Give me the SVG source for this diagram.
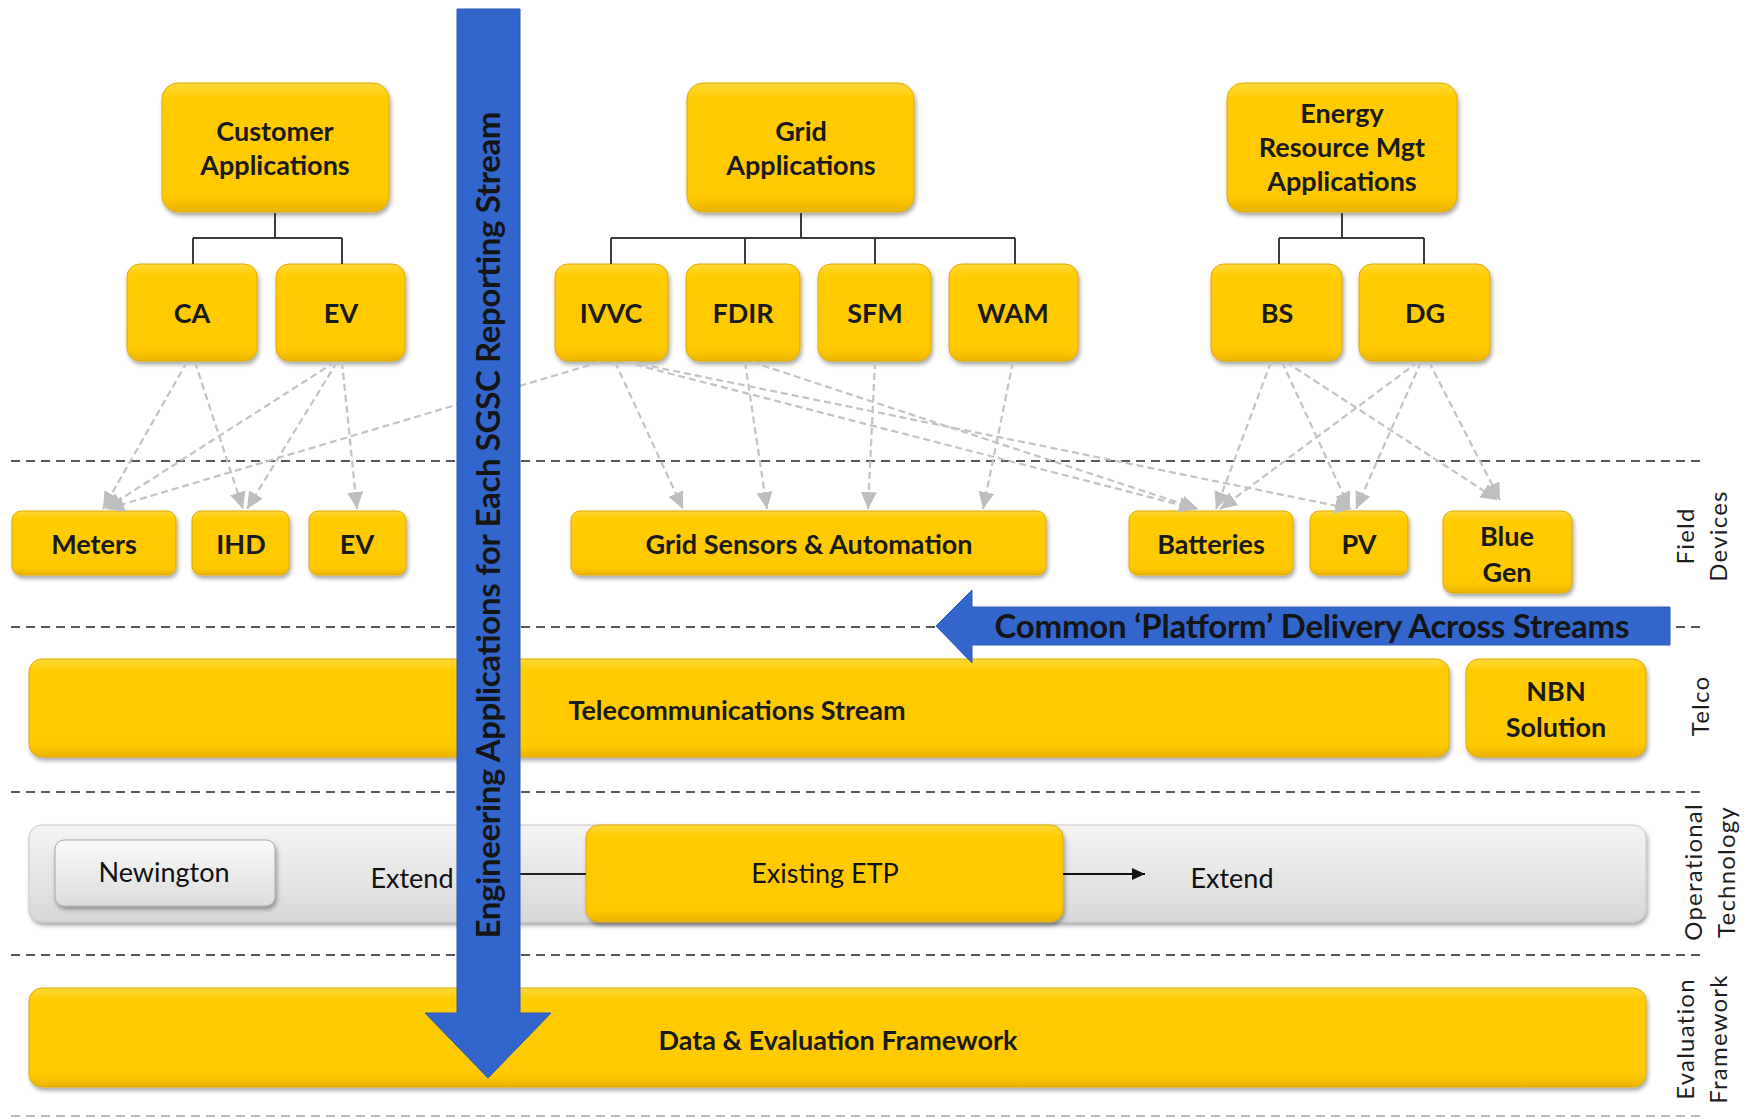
<svg xmlns="http://www.w3.org/2000/svg" width="1752" height="1119" viewBox="0 0 1752 1119">
  <defs>
    <linearGradient id="gold" x1="0" y1="0" x2="0" y2="1">
      <stop offset="0" stop-color="#FFD83A"/>
      <stop offset="0.12" stop-color="#FFCC00"/>
      <stop offset="0.88" stop-color="#FFC900"/>
      <stop offset="1" stop-color="#EBB300"/>
    </linearGradient>
    <linearGradient id="silver" x1="0" y1="0" x2="0" y2="1">
      <stop offset="0" stop-color="#F4F4F4"/>
      <stop offset="0.5" stop-color="#E6E6E6"/>
      <stop offset="1" stop-color="#D8D8D8"/>
    </linearGradient>
    <linearGradient id="pale" x1="0" y1="0" x2="0" y2="1">
      <stop offset="0" stop-color="#FAFAFA"/>
      <stop offset="1" stop-color="#DCDCDC"/>
    </linearGradient>
    <filter id="shadow" x="-5%" y="-15%" width="115%" height="140%">
      <feDropShadow dx="1.5" dy="3" stdDeviation="2" flood-color="#000" flood-opacity="0.35"/>
    </filter>
    <marker id="grayHead" markerUnits="userSpaceOnUse" markerWidth="18" markerHeight="16" refX="17" refY="8" orient="auto">
      <path d="M0,0 L17,8 L0,16 z" fill="#BEBEBE"/>
    </marker>
    <marker id="blackHead" markerUnits="userSpaceOnUse" markerWidth="14" markerHeight="12" refX="13" refY="6" orient="auto">
      <path d="M0,0 L13,6 L0,12 z" fill="#111"/>
    </marker>
  </defs>
  <style>
    .box { fill: url(#gold); stroke: #E0A900; stroke-width: 1; filter: url(#shadow); }
    .lbl { font-family: Lato, "Open Sans", sans-serif; font-weight: bold; font-size: 27px; fill: #1a1a1a; text-anchor: middle; }
    .reg { font-family: Lato, "Open Sans", sans-serif; font-weight: normal; font-size: 27px; fill: #111; text-anchor: middle; }
    .side { font-family: Lato, "Open Sans", sans-serif; font-weight: normal; font-size: 24px; fill: #1e1e1e; text-anchor: middle; letter-spacing: 1.2px; }
    .sep { stroke: #5a5a5a; stroke-width: 2; stroke-dasharray: 9 6; fill: none; }
    .sepLight { stroke: #B8B8B8; stroke-width: 2; stroke-dasharray: 9 6; fill: none; }
    .tree { stroke: #3c3c3c; stroke-width: 2; fill: none; }
    .link { stroke: #C4C4C4; stroke-width: 2.2; stroke-dasharray: 7 4; fill: none; marker-end: url(#grayHead); }
    .blue { fill: #3366CC; stroke: #2C5BB8; stroke-width: 1; }
    .banner { font-family: Lato, "Open Sans", sans-serif; font-weight: bold; font-size: 33px; fill: #151515; text-anchor: middle; }
  </style>

  <rect width="1752" height="1119" fill="#FFFFFF"/>

  <!-- layer separators -->
  <g id="separators">
    <line class="sep" x1="11" y1="461" x2="1704" y2="461"/>
    <line class="sep" x1="11" y1="627" x2="1704" y2="627"/>
    <line class="sep" x1="11" y1="792" x2="1704" y2="792"/>
    <line class="sep" x1="11" y1="955" x2="1704" y2="955"/>
    <line class="sepLight" x1="11" y1="1116" x2="1704" y2="1116"/>
  </g>

  <!-- application tier -->
  <g id="customer-apps">
    <rect class="box" x="162" y="83" width="227" height="129" rx="16"/>
    <text class="lbl" x="275" y="141">Customer</text>
    <text class="lbl" x="275" y="175">Applications</text>
  </g>
  <g id="grid-apps">
    <rect class="box" x="687" y="83" width="227" height="129" rx="16"/>
    <text class="lbl" x="801" y="141">Grid</text>
    <text class="lbl" x="801" y="175">Applications</text>
  </g>
  <g id="erm-apps">
    <rect class="box" x="1227" y="83" width="230" height="129" rx="16"/>
    <text class="lbl" x="1342" y="123">Energy</text>
    <text class="lbl" x="1342" y="157">Resource Mgt</text>
    <text class="lbl" x="1342" y="191">Applications</text>
  </g>

  <g id="ca">
    <rect class="box" x="127" y="264" width="130" height="97" rx="13"/>
    <text class="lbl" x="192" y="323">CA</text>
  </g>
  <g id="ev-app">
    <rect class="box" x="276" y="264" width="129" height="97" rx="13"/>
    <text class="lbl" x="341" y="323">EV</text>
  </g>
  <g id="ivvc">
    <rect class="box" x="555" y="264" width="113" height="97" rx="13"/>
    <text class="lbl" x="611" y="323">IVVC</text>
  </g>
  <g id="fdir">
    <rect class="box" x="686" y="264" width="114" height="97" rx="13"/>
    <text class="lbl" x="743" y="323">FDIR</text>
  </g>
  <g id="sfm">
    <rect class="box" x="818" y="264" width="113" height="97" rx="13"/>
    <text class="lbl" x="875" y="323">SFM</text>
  </g>
  <g id="wam">
    <rect class="box" x="949" y="264" width="129" height="97" rx="13"/>
    <text class="lbl" x="1013" y="323">WAM</text>
  </g>
  <g id="bs">
    <rect class="box" x="1211" y="264" width="131" height="97" rx="13"/>
    <text class="lbl" x="1277" y="323">BS</text>
  </g>
  <g id="dg">
    <rect class="box" x="1359" y="264" width="131" height="97" rx="13"/>
    <text class="lbl" x="1425" y="323">DG</text>
  </g>

  <!-- field devices -->
  <g id="meters">
    <rect class="box" x="12" y="511" width="164" height="64" rx="9"/>
    <text class="lbl" x="94" y="554">Meters</text>
  </g>
  <g id="ihd">
    <rect class="box" x="192" y="511" width="97" height="64" rx="9"/>
    <text class="lbl" x="241" y="554">IHD</text>
  </g>
  <g id="ev-device">
    <rect class="box" x="309" y="511" width="97" height="64" rx="9"/>
    <text class="lbl" x="357" y="554">EV</text>
  </g>
  <g id="grid-sensors">
    <rect class="box" x="571" y="511" width="475" height="64" rx="9"/>
    <text class="lbl" x="809" y="554">Grid Sensors &amp; Automation</text>
  </g>
  <g id="batteries">
    <rect class="box" x="1129" y="511" width="164" height="64" rx="9"/>
    <text class="lbl" x="1211" y="554">Batteries</text>
  </g>
  <g id="pv">
    <rect class="box" x="1310" y="511" width="98" height="64" rx="9"/>
    <text class="lbl" x="1359" y="554">PV</text>
  </g>
  <g id="blue-gen">
    <rect class="box" x="1443" y="511" width="129" height="82" rx="10"/>
    <text class="lbl" x="1507" y="546">Blue</text>
    <text class="lbl" x="1507" y="582">Gen</text>
  </g>

  <!-- telco -->
  <g id="telecom-stream">
    <rect class="box" x="29" y="659" width="1420" height="98" rx="13"/>
    <text class="lbl" x="737" y="720">Telecommunications Stream</text>
  </g>
  <g id="nbn">
    <rect class="box" x="1466" y="659" width="180" height="98" rx="13"/>
    <text class="lbl" x="1556" y="701">NBN</text>
    <text class="lbl" x="1556" y="737">Solution</text>
  </g>

  <!-- operational technology -->
  <g id="ot-platform">
    <rect x="29" y="825" width="1617" height="97" rx="13" fill="url(#silver)" stroke="#C6C6C6" stroke-width="1" filter="url(#shadow)"/>
  </g>
  <g id="newington">
    <rect x="55" y="840" width="220" height="66" rx="9" fill="url(#pale)" stroke="#A8A8A8" stroke-width="1" filter="url(#shadow)"/>
    <text class="reg" x="164" y="882">Newington</text>
  </g>
  <g id="extend-left">
    <text class="reg" x="412" y="888">Extend</text>
  </g>
  <g id="existing-etp">
    <rect class="box" x="586" y="825" width="477" height="97" rx="13"/>
    <text class="reg" x="825" y="883">Existing ETP</text>
  </g>
  <g id="extend-right">
    <text class="reg" x="1232" y="888">Extend</text>
  </g>

  <!-- evaluation -->
  <g id="data-eval">
    <rect class="box" x="29" y="988" width="1617" height="99" rx="13"/>
    <text class="lbl" x="838" y="1050">Data &amp; Evaluation Framework</text>
  </g>

  <!-- connectors -->
  <g id="connectors">
    <path class="tree" d="M275 213 V238 M193 238 H342 M193 238 V264 M342 238 V264"/>
    <path class="tree" d="M801 213 V238 M611 238 H1015 M611 238 V264 M745 238 V264 M875 238 V264 M1015 238 V264"/>
    <path class="tree" d="M1342 213 V238 M1279 238 H1424 M1279 238 V264 M1424 238 V264"/>

    <line class="link" x1="187" y1="362" x2="103" y2="509"/>
    <line class="link" x1="195" y1="362" x2="243" y2="509"/>
    <line class="link" x1="335" y1="362" x2="105" y2="509"/>
    <line class="link" x1="337" y1="362" x2="247" y2="509"/>
    <line class="link" x1="342" y1="362" x2="357" y2="509"/>
    <line class="link" x1="600" y1="362" x2="107" y2="509"/>
    <line class="link" x1="615" y1="362" x2="683" y2="509"/>
    <line class="link" x1="625" y1="362" x2="1196" y2="509"/>
    <line class="link" x1="630" y1="362" x2="1352" y2="509"/>
    <line class="link" x1="745" y1="362" x2="767" y2="509"/>
    <line class="link" x1="752" y1="362" x2="1198" y2="509"/>
    <line class="link" x1="875" y1="362" x2="868" y2="509"/>
    <line class="link" x1="1013" y1="362" x2="983" y2="509"/>
    <line class="link" x1="1271" y1="362" x2="1216" y2="509"/>
    <line class="link" x1="1282" y1="362" x2="1350" y2="509"/>
    <line class="link" x1="1286" y1="362" x2="1498" y2="500"/>
    <line class="link" x1="1418" y1="362" x2="1220" y2="509"/>
    <line class="link" x1="1421" y1="362" x2="1356" y2="509"/>
    <line class="link" x1="1429" y1="362" x2="1500" y2="500"/>

    <line x1="505" y1="874" x2="586" y2="874" stroke="#222" stroke-width="2"/>
    <line x1="1063" y1="874" x2="1145" y2="874" stroke="#111" stroke-width="2" marker-end="url(#blackHead)"/>
  </g>

  <!-- layer captions -->
  <g id="layer-labels">
    <text class="side" transform="translate(1694,536) rotate(-90)">Field</text>
    <text class="side" transform="translate(1727,536) rotate(-90)">Devices</text>
    <text class="side" transform="translate(1709,706) rotate(-90)">Telco</text>
    <text class="side" transform="translate(1702,872) rotate(-90)">Operational</text>
    <text class="side" transform="translate(1735,872) rotate(-90)">Technology</text>
    <text class="side" transform="translate(1694,1039) rotate(-90)">Evaluation</text>
    <text class="side" transform="translate(1727,1039) rotate(-90)">Framework</text>
  </g>

  <!-- cross-stream arrows -->
  <g id="engineering-arrow">
    <path class="blue" d="M457 9 H520 V1013 H551 L488 1078 L425 1013 H457 Z"/>
    <text class="banner" transform="translate(500,525) rotate(-90)" textLength="827" lengthAdjust="spacing">Engineering Applications for Each SGSC Reporting Stream</text>
  </g>
  <g id="platform-arrow">
    <path class="blue" d="M936 626 L972 590 V607 H1670 V645 H972 V663 Z"/>
    <text class="banner" x="1312" y="638" textLength="635" lengthAdjust="spacing">Common ‘Platform’ Delivery Across Streams</text>
  </g>
</svg>
